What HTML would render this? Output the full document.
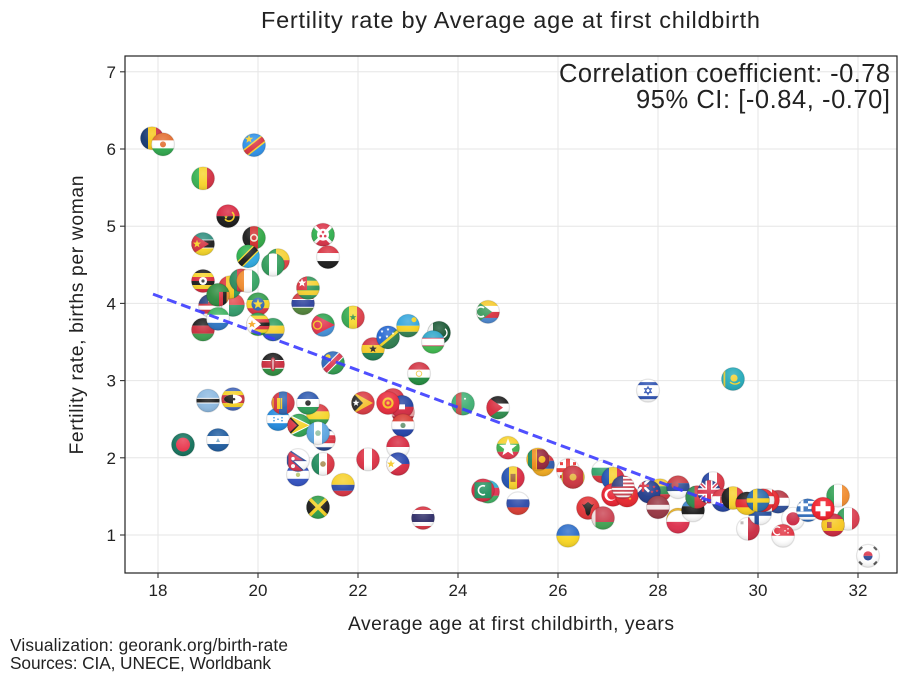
<!DOCTYPE html>
<html lang="en">
<head>
<meta charset="utf-8">
<title>Fertility rate by Average age at first childbirth</title>
<style>
html,body{margin:0;padding:0;background:#fff;width:907px;height:682px;overflow:hidden}
svg{display:block}
text{font-family:"Liberation Sans","DejaVu Sans",sans-serif;fill:#222}
</style>
</head>
<body>
<svg id="chart" xmlns="http://www.w3.org/2000/svg" width="907" height="682" viewBox="0 0 907 682">
  <defs>
    <clipPath id="flag-clip"><circle cx="0" cy="0" r="11.5"/></clipPath>
    <radialGradient id="gloss" cx="50%" cy="30%" r="75%">
      <stop offset="0%" stop-color="#fff" stop-opacity="0.22"/>
      <stop offset="55%" stop-color="#fff" stop-opacity="0.05"/>
      <stop offset="100%" stop-color="#000" stop-opacity="0.14"/>
    </radialGradient>
    <filter id="soft" x="-5%" y="-5%" width="110%" height="110%"><feGaussianBlur stdDeviation="0.35"/></filter>
  </defs>
  <text x="510.5" y="28" text-anchor="middle" font-size="23.5" textLength="499" lengthAdjust="spacing">Fertility rate by Average age at first childbirth</text>
  <g id="grid"></g>
  <g id="flags" filter="url(#soft)"></g>
  <path id="trend" fill="none" stroke="#3c3cff" stroke-opacity="0.9" stroke-width="3" stroke-dasharray="10 5"/>
  <rect x="125" y="56" width="772" height="517" fill="none" stroke="#222" stroke-width="1.2"/>
  <g id="axes"></g>
  <text x="890" y="82" text-anchor="end" font-size="25.5" textLength="331" lengthAdjust="spacing">Correlation coefficient: -0.78</text>
  <text x="890" y="108" text-anchor="end" font-size="25.5" textLength="254" lengthAdjust="spacing">95% CI: [-0.84, -0.70]</text>
  <text x="511" y="630" text-anchor="middle" font-size="19.3" textLength="326" lengthAdjust="spacing">Average age at first childbirth, years</text>
  <text transform="translate(83,315) rotate(-90)" text-anchor="middle" font-size="19.3" textLength="279" lengthAdjust="spacing">Fertility rate, births per woman</text>
  <text x="10" y="651" font-size="17.3" textLength="278" lengthAdjust="spacing">Visualization: georank.org/birth-rate</text>
  <text x="10" y="669" font-size="17.3" textLength="261" lengthAdjust="spacing">Sources: CIA, UNECE, Worldbank</text>
</svg>
<script>
const xTicks = [18, 20, 22, 24, 26, 28, 30, 32];
const yTicks = [1, 2, 3, 4, 5, 6, 7];
const trendAges = [17.9, 29.3];
const trendRates = [4.12, 1.38];

const countries = ['td','ne','cd','ml','ao','af','bi','mz','bj','ng','tz','ye','ug','gm','tg','lr','mg','gn','cm','ci','zm','et','mw','sl','ga','zw','er','sn','km','pk','uz','rw','gh','sb','ke','na','tj','bw','sz','bo','hn','mn','ls','gy','cr','gt','tl','vu','eg','ht','kg','py','id','ph','pe','sv','np','mx','co','jm','th','bd','ni','tm','jo','mm','am','lk','md','az','mv','ru','ua','ge','me','al','by','bg','ro','tr','cn','us','lt','nz','lv','mk','pl','rs','ee','pt','fr','gb','hr','be','mt','fi','nl','ca','at','de','se','jp','sg','gr','ie','it','es','ch','kr','il','kz'];
const ages = [17.88,18.10,19.92,18.90,19.40,19.92,21.30,18.90,20.40,20.30,19.80,21.40,18.90,20.90,21.00,19.04,19.50,19.44,19.66,19.80,19.20,20.00,18.90,19.20,20.30,20.00,21.30,21.90,24.60,23.62,23.50,23.00,22.30,22.60,20.30,21.50,23.22,19.00,19.50,21.20,20.40,20.50,21.00,20.82,21.32,21.20,22.10,22.70,22.90,22.88,22.60,22.90,22.80,22.80,22.20,20.80,20.80,21.30,21.70,21.20,23.30,18.50,19.20,24.10,24.80,25.00,25.70,25.60,25.10,24.60,24.50,25.20,26.20,26.20,26.30,26.60,26.90,26.90,27.10,27.10,27.38,27.30,28.04,27.82,28.00,28.40,28.40,28.40,28.70,28.78,29.10,29.02,29.30,29.50,29.80,30.04,30.40,30.20,30.10,29.78,30.00,30.70,30.50,31.00,31.60,31.80,31.50,31.30,32.20,27.80,29.50];
const fertility = [6.14,6.06,6.05,5.62,5.13,4.85,4.89,4.77,4.56,4.50,4.61,4.60,4.29,4.00,4.20,3.97,3.98,4.21,4.30,4.29,4.11,3.99,3.66,3.80,3.66,3.73,3.72,3.82,3.89,3.62,3.50,3.71,3.41,3.56,3.21,3.23,3.09,2.74,2.76,2.55,2.50,2.71,2.71,2.42,2.24,2.32,2.71,2.75,2.59,2.66,2.71,2.42,2.14,1.92,1.98,1.78,1.97,1.92,1.65,1.36,1.22,2.17,2.23,2.70,2.65,2.13,1.91,1.98,1.74,1.56,1.58,1.41,0.99,1.84,1.75,1.35,1.22,1.82,1.73,1.52,1.51,1.62,1.58,1.56,1.36,1.20,1.17,1.62,1.32,1.49,1.67,1.56,1.45,1.48,1.08,1.28,1.43,1.45,1.45,1.41,1.45,1.21,0.99,1.32,1.51,1.21,1.13,1.34,0.73,2.87,3.02];

function xScale(v){ return 158 + (v - 18) * 50; }
function yScale(v){ return 535 - (v - 1) * 77.2; }

/* flag drawing helpers (local coords -12..12) */
const R=(x,y,w,h,c)=>`<rect x="${x}" y="${y}" width="${w}" height="${h}" fill="${c}"/>`;
const C=(x,y,r,c)=>`<circle cx="${x}" cy="${y}" r="${r}" fill="${c}"/>`;
const P=(pts,c)=>`<polygon points="${pts}" fill="${c}"/>`;
const hs=(...a)=>a.map((c,i)=>R(-12,-12+24*i/a.length,24,24/a.length+.1,c)).join('');
const vs=(...a)=>a.map((c,i)=>R(-12+24*i/a.length,-12,24/a.length+.1,24,c)).join('');
function S(x,y,r,c){let p=[];for(let i=0;i<10;i++){const a=-Math.PI/2+i*Math.PI/5,q=i%2?r*.42:r;p.push((x+q*Math.cos(a)).toFixed(1)+','+(y+q*Math.sin(a)).toFixed(1));}return P(p.join(' '),c);}
const L=(d,c,w)=>`<path d="${d}" stroke="${c}" stroke-width="${w}" fill="none"/>`;

const flagArt = {
 td:()=>vs('#12356f','#f6c714','#c9283f'),
 ne:()=>hs('#e26a2c','#fff','#2ba64a')+C(0,0,3,'#e26a2c'),
 cd:()=>R(-12,-12,24,24,'#2b8fe8')+L('M-14,12L14,-10','#f6d02e',8)+L('M-14,12L14,-10','#d9323f',5)+S(-5,-6,4.5,'#f6d02e'),
 ml:()=>vs('#34b04f','#f7d327','#d12c3e'),
 ao:()=>hs('#d8253f','#151515')+L('M-3,3A5,5 0 1 0 4,-4','#f2c91e',1.6)+S(-2,1,2,'#f2c91e'),
 af:()=>vs('#1a1a1a','#cf2a2a','#2da542')+C(0,0,4,'#f0e6d0')+C(0,0,2.4,'#cf2a2a'),
 bi:()=>R(-12,-12,24,24,'#d92f45')+P('-12,-12 -12,12 0,0','#2fae4e')+P('12,-12 12,12 0,0','#2fae4e')+L('M-12,-12L12,12M12,-12L-12,12','#fff',3)+C(0,0,6,'#fff')+C(0,-2.6,1.3,'#d92f45')+C(-2.2,1.4,1.3,'#d92f45')+C(2.2,1.4,1.3,'#d92f45'),
 mz:()=>hs('#2a8b7b','#1c1c1c','#f5d524')+R(-12,-4.4,24,.8,'#fff')+R(-12,3.6,24,.8,'#fff')+P('-12,-11 6,0 -12,11','#d22f3d')+S(-6,0,4.2,'#f5d524'),
 bj:()=>R(-12,-12,24,12,'#f6d02e')+R(-12,0,24,12,'#df3a3f')+R(-12,-12,10,24,'#2a9b54'),
 ng:()=>vs('#2f9a58','#fff','#2f9a58'),
 tz:()=>R(-12,-12,24,24,'#2bb04c')+P('12,-12 12,12 -12,12','#29a7df')+L('M-12,12L12,-12','#f5d524',8)+L('M-12,12L12,-12','#161616',5.4),
 ye:()=>hs('#d8303f','#fff','#171717'),
 ug:()=>hs('#1a1a1a','#f7d327','#d8253a','#1a1a1a','#f7d327','#d8253a')+C(0,0,4,'#fff')+C(0,0,1.6,'#333'),
 gm:()=>hs('#cf3a3f','#2b3f9a','#4f8237')+R(-12,-4.4,24,1,'#fff')+R(-12,3.4,24,1,'#fff'),
 tg:()=>hs('#2f9457','#f6d02e','#2f9457','#f6d02e','#2f9457')+R(-12,-12,11,14,'#d8303f')+S(-6,-5,4.5,'#fff'),
 lr:()=>hs('#c9303f','#fff','#c9303f','#fff','#c9303f','#fff')+R(-12,-12,10,10,'#26417f'),
 mg:()=>R(-12,-12,24,12,'#e2474b')+R(-12,0,24,12,'#2f9a68')+R(-12,-12,8,24,'#fff'),
 gn:()=>vs('#d9343e','#f4c71d','#2c9a58'),
 cm:()=>vs('#2a8a5c','#d9343e','#f4c71d'),
 ci:()=>vs('#f08a2c','#fff','#32a261'),
 zm:()=>R(-12,-12,24,24,'#2b8a3c')+R(1,-3,4,15,'#d8303f')+R(5,-3,3.6,15,'#1a1a1a')+R(8.6,-3,4,15,'#ee8a2c'),
 et:()=>hs('#2f9a48','#f5d524','#d8303f')+C(0,0,6.5,'#2b5fb0')+S(0,0,5.4,'#f5d524'),
 mw:()=>hs('#1a1a1a','#c92a3a','#3a9d4c'),
 sl:()=>hs('#38b05a','#fff','#2a72c0'),
 ga:()=>hs('#2b9a5c','#f5d02a','#2a5fb0'),
 zw:()=>hs('#2b9a45','#f5d524','#d8303f','#1a1a1a','#d8303f','#f5d524','#2b9a45')+P('-12,-12 3,0 -12,12','#fff')+S(-6,0,4.2,'#f5a524'),
 er:()=>R(-12,-12,24,12,'#2ba04c')+R(-12,0,24,12,'#3f8fd8')+P('-12,-12 12,0 -12,12','#e0304a')+L('M-5.5,0m-4,0a4,4 0 1 0 8,0a4,4 0 1 0 -8,0','#f2c91e',1.4),
 sn:()=>vs('#34a850','#f7d930','#db3a45')+S(0,0,3.6,'#2a8a44'),
 km:()=>hs('#f5c92a','#fff','#d8303f','#4a86cf')+P('-12,-12 4,0 -12,12','#3c9a5c')+L('M-4,-4A5,5 0 1 0 -4,4','#fff',1.8),
 pk:()=>R(-12,-12,24,24,'#14532f')+R(-12,-12,6,24,'#f0f0f0')+L('M6,-4A5,5 0 1 1 -1,3','#fff',1.3),
 uz:()=>hs('#2aa5c9','#fff','#3cb84c')+R(-12,-4.2,24,.8,'#c9304f')+R(-12,3.4,24,.8,'#c9304f'),
 rw:()=>R(-12,-12,24,12,'#32a5dc')+R(-12,0,24,6,'#f5d120')+R(-12,6,24,6,'#2f7d4f')+C(6,-6,2.5,'#f5d120'),
 gh:()=>hs('#d1303f','#f6c924','#1d7d4f')+S(0,0,4,'#161616'),
 sb:()=>R(-12,-12,24,24,'#2063d0')+P('12,-12 12,12 -12,12','#2a7a4a')+L('M-12,12L12,-8','#f5d524',2.6)+S(-6,-6,1.7,'#fff')+S(0,-8,1.7,'#fff')+S(-1,-1,1.7,'#fff')+S(-8,0,1.7,'#fff')+S(5,-4,1.5,'#fff'),
 ke:()=>hs('#1a1a1a','#c9283a','#2a8a3c')+R(-12,-4.4,24,1,'#fff')+R(-12,3.4,24,1,'#fff')+`<ellipse rx="2.8" ry="7" fill="#b92535"/>`+R(-.5,-5,1,10,'#fff'),
 na:()=>R(-12,-12,24,24,'#2a66b8')+P('12,-12 12,12 -12,12','#2e9a4c')+L('M-12,12L12,-12','#fff',7)+L('M-12,12L12,-12','#d9324a',5)+C(-5,-6,2.6,'#f5d120'),
 tj:()=>hs('#d1303f','#fff','#1f8a3c')+C(0,0,3.2,'#f0c84a')+C(0,0,2.2,'#fff'),
 bw:()=>R(-12,-12,24,24,'#8bb8e0')+R(-12,-2.8,24,5.6,'#fff')+R(-12,-1.8,24,3.6,'#1c1c1c'),
 sz:()=>hs('#3e62b8','#f5d020','#c9303a','#c9303a','#f5d020','#3e62b8')+`<ellipse rx="9" ry="4.5" fill="#fff"/>`+`<path d="M-9,0A9,4.5 0 0 1 0,-4.5L0,4.5A9,4.5 0 0 1 -9,0Z" fill="#1a1a1a"/>`+C(1,0,1.3,'#1a1a1a'),
 bo:()=>hs('#d9383f','#f6d528','#2f9a45'),
 hn:()=>hs('#1e87dc','#fff','#1e87dc')+C(0,0,.8,'#1e87dc')+C(-4,-1.5,.8,'#1e87dc')+C(4,-1.5,.8,'#1e87dc')+C(-4,1.5,.8,'#1e87dc')+C(4,1.5,.8,'#1e87dc'),
 mn:()=>vs('#d1303f','#2b62ae','#d1303f')+R(-6,-5,3.5,11,'#f4c71d')+R(-10.6,-5,1.2,11,'#f4c71d')+R(-2,-5,1.2,11,'#f4c71d'),
 ls:()=>hs('#2a57ae','#fff','#2a9a54')+C(0,0,2.8,'#1c1c1c'),
 gy:()=>R(-12,-12,24,24,'#2ba04f')+P('-12,-12 12,0 -12,12','#fff')+P('-12,-10.5 10,0 -12,10.5','#f5d120')+P('-12,-12 0,0 -12,12','#1a1a1a')+P('-12,-9.5 -2,0 -12,9.5','#d8303f'),
 cr:()=>hs('#1f3f88','#fff','#d8303f','#d8303f','#fff','#1f3f88'),
 gt:()=>vs('#5ba5e0','#fff','#5ba5e0')+C(0,0,2.8,'#8fbf9f'),
 tl:()=>R(-12,-12,24,24,'#d9373f')+P('-12,-12 10,0 -12,12','#f4c02a')+P('-12,-12 0,0 -12,12','#2a2a2a')+S(-7,0,3.6,'#fff'),
 vu:()=>hs('#d9303f','#d9303f','#a51e30'),
 eg:()=>hs('#d9303f','#e8a0a0','#b51f2f'),
 ht:()=>R(-12,-12,24,12,'#2040a0')+R(-12,0,24,12,'#d2283f')+R(-3,-2.5,6,5,'#fff'),
 kg:()=>R(-12,-12,24,24,'#e8283a')+C(0,0,5.6,'#f6c11d')+C(0,0,3.5,'#e8283a')+C(0,0,1.6,'#f6c11d'),
 py:()=>hs('#d7392f','#fff','#2140a8')+C(0,0,2.6,'#5f8f6c'),
 id:()=>hs('#d6283f','#fff'),
 ph:()=>R(-12,-12,24,12,'#2140a8')+R(-12,0,24,12,'#d6283f')+P('-12,-12 4,0 -12,12','#fff')+S(-7,0,4.2,'#f6c92a'),
 pe:()=>vs('#db2e42','#fff','#db2e42'),
 sv:()=>hs('#2f4fc0','#fff','#2f4fc0')+C(0,0,2.2,'#b5c46a'),
 np:()=>R(-12,-12,24,24,'#fff')+P('-11,-12 9,1 -4,1 8,12 -11,12','#2a4a96')+P('-9.6,-9.5 5,0.2 -7,0.2 5,10.6 -9.6,10.6','#d8304a')+C(-5,-1.5,1.7,'#fff')+C(-5,6,2,'#fff'),
 mx:()=>vs('#1f8a5c','#fff','#d8303f')+C(0,0,2.8,'#a68a4f'),
 co:()=>R(-12,-12,24,12,'#f6d028')+R(-12,0,24,6,'#2a4aa8')+R(-12,6,24,6,'#d8303f'),
 jm:()=>R(-12,-12,24,24,'#2a9a45')+P('-12,-12 0,0 -12,12','#1a1a1a')+P('12,-12 0,0 12,12','#1a1a1a')+L('M-12,-12L12,12M12,-12L-12,12','#f5d020',3.4),
 th:()=>hs('#d8303f','#fff','#2c2a66','#2c2a66','#fff','#d8303f'),
 bd:()=>R(-12,-12,24,24,'#11705a')+C(0,0,7,'#e8334a'),
 ni:()=>hs('#1c5a9e','#fff','#1c5a9e')+P('0,-2 2,2 -2,2','#7aa8c8'),
 tm:()=>R(-12,-12,24,24,'#3cae70')+R(-7,-12,5.5,24,'#c8504a')+C(2,-5,1,'#fff'),
 jo:()=>hs('#1a1a1a','#fff','#2a8a4a')+P('-12,-12 5,0 -12,12','#d8283a'),
 mm:()=>hs('#f6d028','#3cae4a','#e0334a')+S(0,0,9.5,'#fff'),
 am:()=>hs('#d82c3a','#2a55a8','#f0a81c'),
 lk:()=>R(-12,-12,24,24,'#f4b81c')+R(-10,-10,4,20,'#1f8a5c')+R(-6,-10,4,20,'#f08a1c')+R(-1,-10,12,20,'#932238')+C(4,0,3.5,'#f4b81c'),
 md:()=>vs('#2050b0','#f6d028','#d8283f')+R(-2.5,-4,5,8,'#9a5a30'),
 az:()=>hs('#2ab0d0','#e0304f','#3cb060'),
 mv:()=>R(-12,-12,24,24,'#d6283f')+R(-8.5,-8,17,16,'#1e8f5c')+L('M2,-4A4.5,4.5 0 1 0 2,4','#fff',1.6),
 ru:()=>hs('#fff','#2a48a8','#d8392f'),
 ua:()=>hs('#2a6bc8','#f8d520'),
 ge:()=>R(-12,-12,24,24,'#fff')+R(-12,-2,24,4,'#e83030')+R(-2,-12,4,24,'#e83030')+R(-8,-8,3,3,'#e83030')+R(5,-8,3,3,'#e83030')+R(-8,5,3,3,'#e83030')+R(5,5,3,3,'#e83030'),
 me:()=>R(-12,-12,24,24,'#d4a62a')+R(-10,-12,20,24,'#c9303a')+C(0,0,3.5,'#e2b438'),
 al:()=>R(-12,-12,24,24,'#e02f33')+P('0,-6 4,-3 6,-4 3,1 2,6 0,8 -2,6 -3,1 -6,-4 -4,-3','#171717'),
 by:()=>R(-12,-12,24,16,'#c9404f')+R(-12,4,24,8,'#3fa050')+R(-12,-12,4.5,24,'#f0e0e0'),
 bg:()=>hs('#fff','#2fa066','#d8303a'),
 ro:()=>vs('#2050b0','#f6d028','#d8283f'),
 tr:()=>R(-12,-12,24,24,'#e81f2e')+C(-2.5,0,6,'#fff')+C(-1,0,4.8,'#e81f2e')+S(4,0,2.6,'#fff'),
 cn:()=>R(-12,-12,24,24,'#e6232a')+S(-5,-4,4,'#f6d028')+S(3,-7,1.5,'#f6d028')+S(5,-2,1.5,'#f6d028')+S(3,3,1.5,'#f6d028'),
 us:()=>hs('#c8404f','#fff','#c8404f','#fff','#c8404f','#fff','#c8404f','#fff','#c8404f','#fff','#c8404f','#fff','#c8404f')+R(-12,-12,12,11.5,'#34407f'),
 lt:()=>hs('#f5c92a','#2f8a4c','#c9303a'),
 nz:()=>R(-12,-12,24,24,'#1f3a8a')+S(5,-5,1.8,'#d8303f')+S(8,-1,1.8,'#d8303f')+S(3,0,1.8,'#d8303f')+S(5,6,1.8,'#d8303f')+L('M-12,-12L0,0M0,-12L-12,0','#fff',2.6)+L('M-6,-12V0M-12,-6H0','#d8303f',2.4),
 lv:()=>R(-12,-12,24,24,'#95333f')+R(-12,-2.4,24,4.8,'#f3e8e8'),
 mk:()=>R(-12,-12,24,24,'#e8b020'),
 pl:()=>hs('#fff','#dc2c4a'),
 rs:()=>hs('#c9383f','#2a4a8f','#fff')+C(-3,-2,3.6,'#b8454a'),
 pt:()=>R(-12,-12,24,24,'#d8303a')+R(-12,-12,9.5,24,'#2a8a4a'),
 ee:()=>hs('#3a82c8','#161616','#fff'),
 fr:()=>vs('#2040a0','#fff','#d8303f'),
 gb:()=>R(-12,-12,24,24,'#253c8c')+L('M-12,-12L12,12M12,-12L-12,12','#fff',4)+L('M-12,-12L12,12M12,-12L-12,12','#d8304a',1.5)+R(-12,-3.5,24,7,'#fff')+R(-3.5,-12,7,24,'#fff')+R(-12,-2,24,4,'#d8304a')+R(-2,-12,4,24,'#d8304a'),
 hr:()=>hs('#d8303f','#fff','#2040a0')+R(-3,-4,6,7,'#d8505a'),
 be:()=>vs('#1a1a1a','#f6d028','#e03a3f'),
 mt:()=>vs('#fff','#c9283f')+R(-7.5,-7.5,3,3,'#b9b4b4'),
 fi:()=>R(-12,-12,24,24,'#fff')+R(-12,-2,24,4.4,'#1f4a9a')+R(-5.5,-12,4.4,24,'#1f4a9a'),
 nl:()=>hs('#b5323f','#fff','#2a4a96'),
 ca:()=>vs('#e8232a','#fff','#e8232a'),
 at:()=>hs('#e8232a','#f0f0f0','#e8232a'),
 de:()=>hs('#1a1a1a','#e0232a','#f8cc1c'),
 se:()=>R(-12,-12,24,24,'#2668a8')+R(-12,-2,24,4.4,'#f6cf1c')+R(-5,-12,4.4,24,'#f6cf1c'),
 jp:()=>R(-12,-12,24,24,'#fff')+C(0,0,6.6,'#c9243f'),
 sg:()=>hs('#e0303f','#fff')+L('M-3,-8A4,4 0 1 0 -3,-2','#fff',1.4)+C(2,-5,.8,'#fff')+C(5,-3,.8,'#fff')+C(5,-7,.8,'#fff'),
 gr:()=>hs('#2a68b8','#fff','#2a68b8','#fff','#2a68b8','#fff','#2a68b8','#fff','#2a68b8')+R(-12,-12,12,13,'#2a68b8')+R(-7.5,-12,3,13,'#fff')+R(-12,-7,12,3,'#fff'),
 ie:()=>vs('#32a055','#fff','#f08a2c'),
 it:()=>vs('#2f9c55','#fff','#d8384a'),
 es:()=>R(-12,-12,24,24,'#c9243c')+R(-12,-6,24,12,'#f6c71d')+R(-6,-3,4.6,6,'#b5503c'),
 ch:()=>R(-12,-12,24,24,'#ef1c28')+R(-2.6,-7.5,5.2,15,'#fff')+R(-7.5,-2.6,15,5.2,'#fff'),
 kr:()=>R(-12,-12,24,24,'#fff')+`<path d="M-4.6,0A4.6,4.6 0 0 1 4.6,0Z" fill="#d8283f"/>`+`<path d="M-4.6,0A4.6,4.6 0 0 0 4.6,0Z" fill="#23408f"/>`+L('M-9,-6L-6,-9M6,-9L9,-6M-9,6L-6,9M6,9L9,6','#555',2.6),
 il:()=>R(-12,-12,24,24,'#fff')+R(-12,-8.5,24,3,'#2a4fb0')+R(-12,5.5,24,3,'#2a4fb0')+L('M0,-4L3.4,2H-3.4ZM0,4L3.4,-2H-3.4Z','#2a4fb0',1),
 kz:()=>R(-12,-12,24,24,'#22a9b9')+C(1,-1,3.6,'#f2d030')+L('M-3,3Q2,7 7,3','#f2d030',1.4)+R(-9.5,-12,1.8,24,'#e0c838')
};

const NS = 'http://www.w3.org/2000/svg';
const gridG = document.getElementById('grid');
const axesG = document.getElementById('axes');
const flagsG = document.getElementById('flags');

xTicks.forEach(function(t){
  const gl = document.createElementNS(NS,'line');
  
  
  gl.setAttribute('x1', xScale(t)); gl.setAttribute('x2', xScale(t));
  gl.setAttribute('y1', 56); gl.setAttribute('y2', 573);
  gl.setAttribute('stroke', '#e6e6e6'); gl.setAttribute('stroke-width', '1');
  gridG.appendChild(gl);
  const tk = document.createElementNS(NS,'line');
  
  
  tk.setAttribute('x1', xScale(t)); tk.setAttribute('x2', xScale(t));
  tk.setAttribute('y1', 573); tk.setAttribute('y2', 578);
  tk.setAttribute('stroke', '#333'); tk.setAttribute('stroke-width', '1.1');
  axesG.appendChild(tk);
  const lb = document.createElementNS(NS,'text');
  
  
  lb.setAttribute('x', xScale(t)); lb.setAttribute('y', 596);
  lb.setAttribute('text-anchor', 'middle'); lb.setAttribute('font-size', '17');
  lb.textContent = t;
  axesG.appendChild(lb);
});
yTicks.forEach(function(t){
  const gl = document.createElementNS(NS,'line');
  
  
  gl.setAttribute('x1', 125); gl.setAttribute('x2', 897);
  gl.setAttribute('y1', yScale(t)); gl.setAttribute('y2', yScale(t));
  gl.setAttribute('stroke', '#e6e6e6'); gl.setAttribute('stroke-width', '1');
  gridG.appendChild(gl);
  const tk = document.createElementNS(NS,'line');
  
  
  tk.setAttribute('x1', 120); tk.setAttribute('x2', 125);
  tk.setAttribute('y1', yScale(t)); tk.setAttribute('y2', yScale(t));
  tk.setAttribute('stroke', '#333'); tk.setAttribute('stroke-width', '1.1');
  axesG.appendChild(tk);
  const lb = document.createElementNS(NS,'text');
  
  
  lb.setAttribute('x', 116); lb.setAttribute('y', yScale(t) + 6);
  lb.setAttribute('text-anchor', 'end'); lb.setAttribute('font-size', '17');
  lb.textContent = t;
  axesG.appendChild(lb);
});

countries.forEach(function(code, i){
  const g = document.createElementNS(NS,'g');
  
  
  g.setAttribute('transform', 'translate(' + xScale(ages[i]) + ',' + yScale(fertility[i]) + ')');
  g.innerHTML = '<g clip-path="url(#flag-clip)">' + flagArt[code]() + '</g>' +
    '<circle r="11.5" fill="url(#gloss)"/>' +
    '<circle r="11.5" fill="none" stroke="#000" stroke-opacity="0.1" stroke-width="1.2"/>';
  flagsG.appendChild(g);
});

document.getElementById('trend').setAttribute('d',
  trendAges.map(function(a, i){ return (i ? 'L' : 'M') + xScale(a) + ',' + yScale(trendRates[i]); }).join(''));
</script>
</body>
</html>
